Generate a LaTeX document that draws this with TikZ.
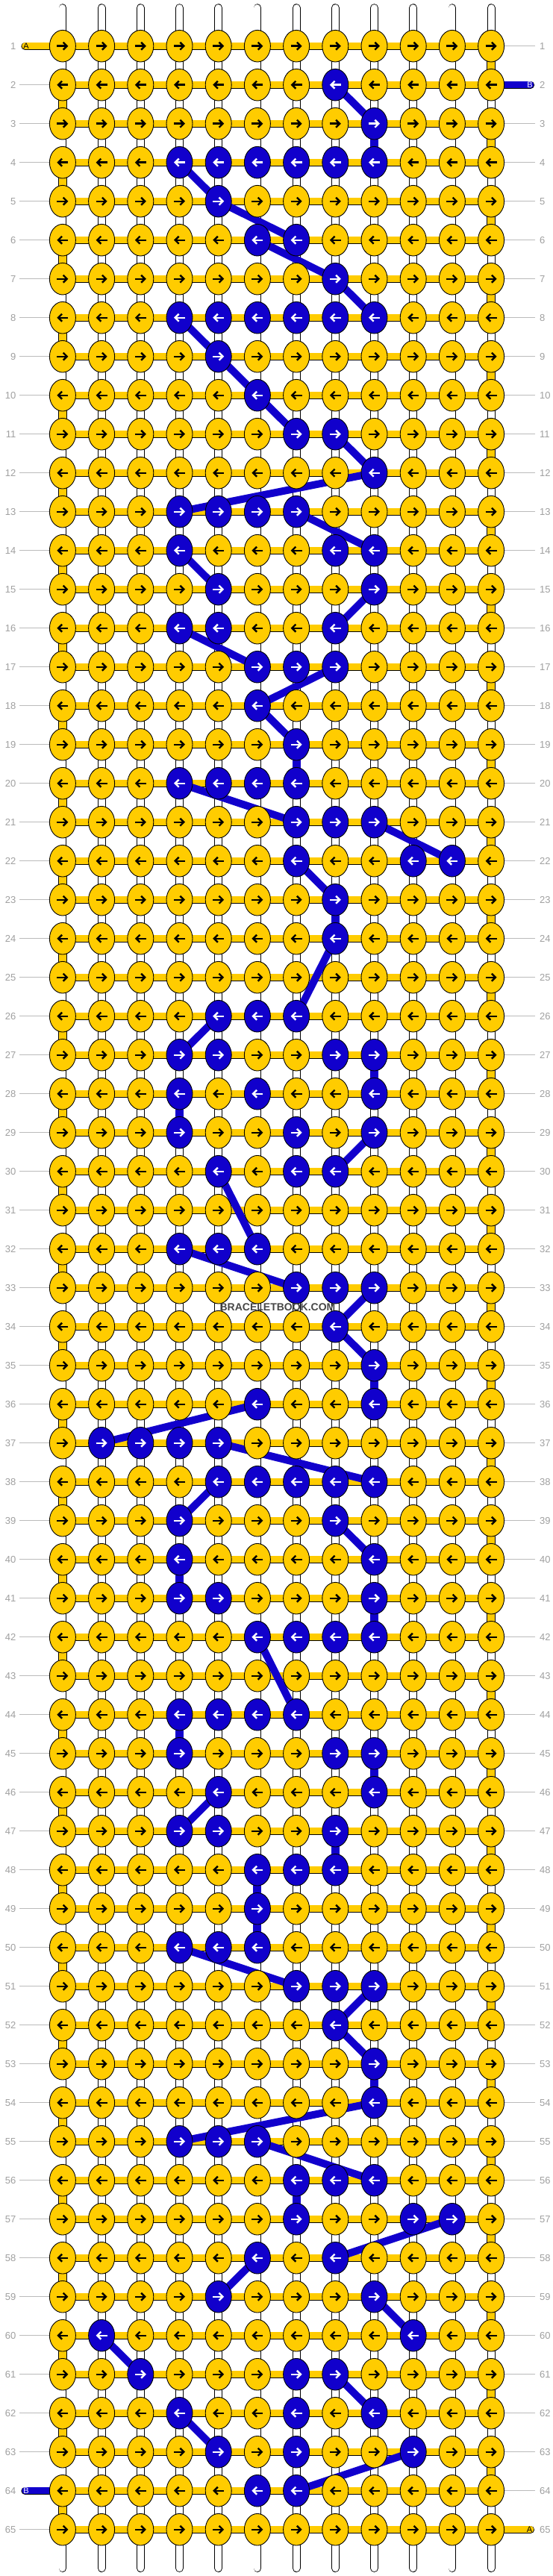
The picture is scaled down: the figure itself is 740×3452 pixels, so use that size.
\documentclass[tikz,border=0pt]{standalone}
\usepackage{fontspec}
\setmainfont{Liberation Sans}
\usetikzlibrary{shapes.geometric,arrows.meta}
\definecolor{ky}{HTML}{FFCC00}
\definecolor{kb}{HTML}{1100CC}
\definecolor{lbl}{HTML}{A0A0A0}
\definecolor{lln}{HTML}{BBBBBB}
\pgfdeclarelayer{bg}
\pgfsetlayers{bg,main}
\begin{document}
\foreach \rr/\cs in {2/{8},3/{9},4/{4,5,6,7,8,9},5/{5},6/{6,7},7/{8},8/{4,5,6,7,8,9},9/{5},10/{6},11/{7,8},12/{9},13/{4,5,6,7},14/{4,8,9},15/{5,9},16/{4,5,8},17/{6,7,8},18/{6},19/{7},20/{4,5,6,7},21/{7,8,9},22/{7,10,11},23/{8},24/{8},26/{5,6,7},27/{4,5,8,9},28/{4,6,9},29/{4,7,9},30/{5,7,8},32/{4,5,6},33/{7,8,9},34/{8},35/{9},36/{6,9},37/{2,3,4,5},38/{5,6,7,8,9},39/{4,8},40/{4,9},41/{4,5,9},42/{6,7,8,9},44/{4,5,6,7},45/{4,8,9},46/{5,9},47/{4,5,8},48/{6,7,8},49/{6},50/{4,5,6},51/{7,8,9},52/{8},53/{9},54/{9},55/{4,5,6},56/{7,8,9},57/{7,10,11},58/{6,8},59/{5,9},60/{2,10},61/{3,7,8},62/{4,7,9},63/{5,7,10},64/{6,7}}{%
  \foreach \cc in \cs {\expandafter\gdef\csname bk-\rr-\cc\endcsname{}}}%
\begin{tikzpicture}[x=1pt,y=-1pt,
  knot/.style={ellipse, minimum width=35pt, minimum height=42.6pt, inner sep=0pt, draw=black, line width=0.9pt},
  yk/.style={knot, fill=ky},
  bk/.style={knot, fill=kb},
  arr/.style={line width=2.4pt, -{Straight Barb[length=5pt,width=10pt]}},
  strg/.style={draw=black, line width=0.9pt, double=white, double distance=9pt, line cap=round},
  ybar/.style={draw=black, line width=0.9pt, double=ky, double distance=8.5pt},
  yturn/.style={draw=black, line width=0.9pt, double=ky, double distance=9.5pt},
  astub/.style={draw=black, line width=0.9pt, double=ky, double distance=8.5pt, line cap=round},
  bstub/.style={draw=black, line width=0.9pt, double=kb, double distance=8.5pt, line cap=round},
  bline/.style={draw=kb, line width=10pt},
  bvert/.style={draw=kb, line width=11pt},
  gline/.style={draw=lln, line width=1pt},
  num/.style={text=lbl, font=\fontsize{13}{13}\selectfont, inner sep=0pt},
  tag/.style={font=\fontsize{11}{11}\selectfont, inner sep=0pt}
]
\useasboundingbox (0,0) rectangle (740,3452);
% knots
\foreach \r in {1,...,65}{
  \foreach \c in {1,...,12}{
    \pgfmathsetmacro\xx{83.9+(\c-1)*52.2}
    \pgfmathsetmacro\yy{61.7+(\r-1)*52}
    \ifcsname bk-\r-\c\endcsname \def\kst{bk}\def\acol{white}\else\def\kst{yk}\def\acol{black}\fi
    \node[\kst] (k-\r-\c) at (\xx,\yy) {};
    \ifodd\r\relax
      \draw[arr,\acol] ([xshift=-7.5pt]k-\r-\c.center) -- ([xshift=7.5pt]k-\r-\c.center);
    \else
      \draw[arr,\acol] ([xshift=7.5pt]k-\r-\c.center) -- ([xshift=-7.5pt]k-\r-\c.center);
    \fi
  }
}
% row numbers
\foreach \r in {1,...,65}{
  \pgfmathsetmacro\yy{61.7+(\r-1)*52}
  \node[num, anchor=east] (ln-\r) at (21.5,\yy) {\r};
  \node[num, anchor=west] (rn-\r) at (723,\yy) {\r};
}
% watermark
\node[font=\bfseries\fontsize{14}{14}\selectfont, text=black!72, inner sep=0pt] (wm) at (372,1752) {BRACELETBOOK.COM};
% stub end points
\coordinate (a1) at (33.5,61.7);
\coordinate (b2) at (711,113.7);
\coordinate (b64) at (33.5,3337.7);
\coordinate (a65) at (711,3389.7);
\begin{pgfonlayer}{bg}
  \fill[white] (0,0) rectangle (740,3452);
  % strings
  \foreach \c in {1,...,12}{
    \pgfmathsetmacro\xx{83.9+(\c-1)*52.2}
    \coordinate (st-\c) at (\xx,10.5);
    \coordinate (sb-\c) at (\xx,3441.5);
    \draw[strg] (st-\c) -- (sb-\c);
  }
  % gray label lines
  \foreach \r in {2,...,63,65}{
    \draw[gline] (ln-\r.east) ++(4.5,0) coordinate (gl-\r) (gl-\r) -- (k-\r-1.center);
  }
  \foreach \r in {1,3,4,...,64}{
    \draw[gline] (rn-\r.west) ++(-6,0) coordinate (gr-\r) (gr-\r) -- (k-\r-12.center);
  }
  % row bars
  \foreach \r in {1,...,65}{
    \draw[ybar] (k-\r-1.center) -- (k-\r-12.center);
  }
  % turns
  \foreach \r in {1,...,64}{
    \pgfmathtruncatemacro\rn{\r+1}
    \ifodd\r\relax\def\tc{12}\else\def\tc{1}\fi
    \draw[yturn] (k-\r-\tc.center) -- (k-\rn-\tc.center);
  }
  % stubs
  \draw[astub] (k-1-1.center) -- (a1);
  \draw[bstub] (k-2-12.center) -- (b2);
  \draw[bstub] (k-64-1.center) -- (b64);
  \draw[astub] (k-65-12.center) -- (a65);
  % blue strand connections
  \foreach \a/\b/\p/\q in {2/8/3/9,4/4/5/5,5/5/6/7,6/6/7/8,7/8/8/9,8/4/9/5,9/5/10/6,10/6/11/7,11/8/12/9,12/9/13/4,13/7/14/9,14/4/15/5,15/9/16/8,16/4/17/6,17/8/18/6,18/6/19/7,20/4/21/7,21/9/22/11,22/7/23/8,24/8/26/7,26/5/27/4,29/9/30/8,30/5/32/6,32/4/33/7,33/9/34/8,34/8/35/9,36/6/37/2,37/5/38/9,38/5/39/4,39/8/40/9,42/6/44/7,46/5/47/4,50/4/51/7,51/9/52/8,52/8/53/9,54/9/55/4,55/6/56/9,57/11/58/8,58/6/59/5,59/9/60/10,60/2/61/3,61/8/62/9,62/4/63/5,63/10/64/7}{
    \draw[bline] (k-\a-\b.center) -- (k-\p-\q.center);
  }
  \foreach \a/\b/\p/\q in {3/9/4/9,19/7/20/7,23/8/24/8,27/9/28/9,28/4/29/4,35/9/36/9,40/4/41/4,41/9/42/9,44/4/45/4,45/9/46/9,47/8/48/8,48/6/49/6,49/6/50/6,53/9/54/9,56/7/57/7}{
    \draw[bvert] (k-\a-\b.center) -- (k-\p-\q.center);
  }
\end{pgfonlayer}
% stub tags
\node[tag, text=black] (ta1) at (35,61.7) {A};
\node[tag, text=white] (tb2) at (710,113.7) {B};
\node[tag, text=white] (tb64) at (35,3337.7) {B};
\node[tag, text=black] (ta65) at (709.5,3389.7) {A};
\end{tikzpicture}
\end{document}
